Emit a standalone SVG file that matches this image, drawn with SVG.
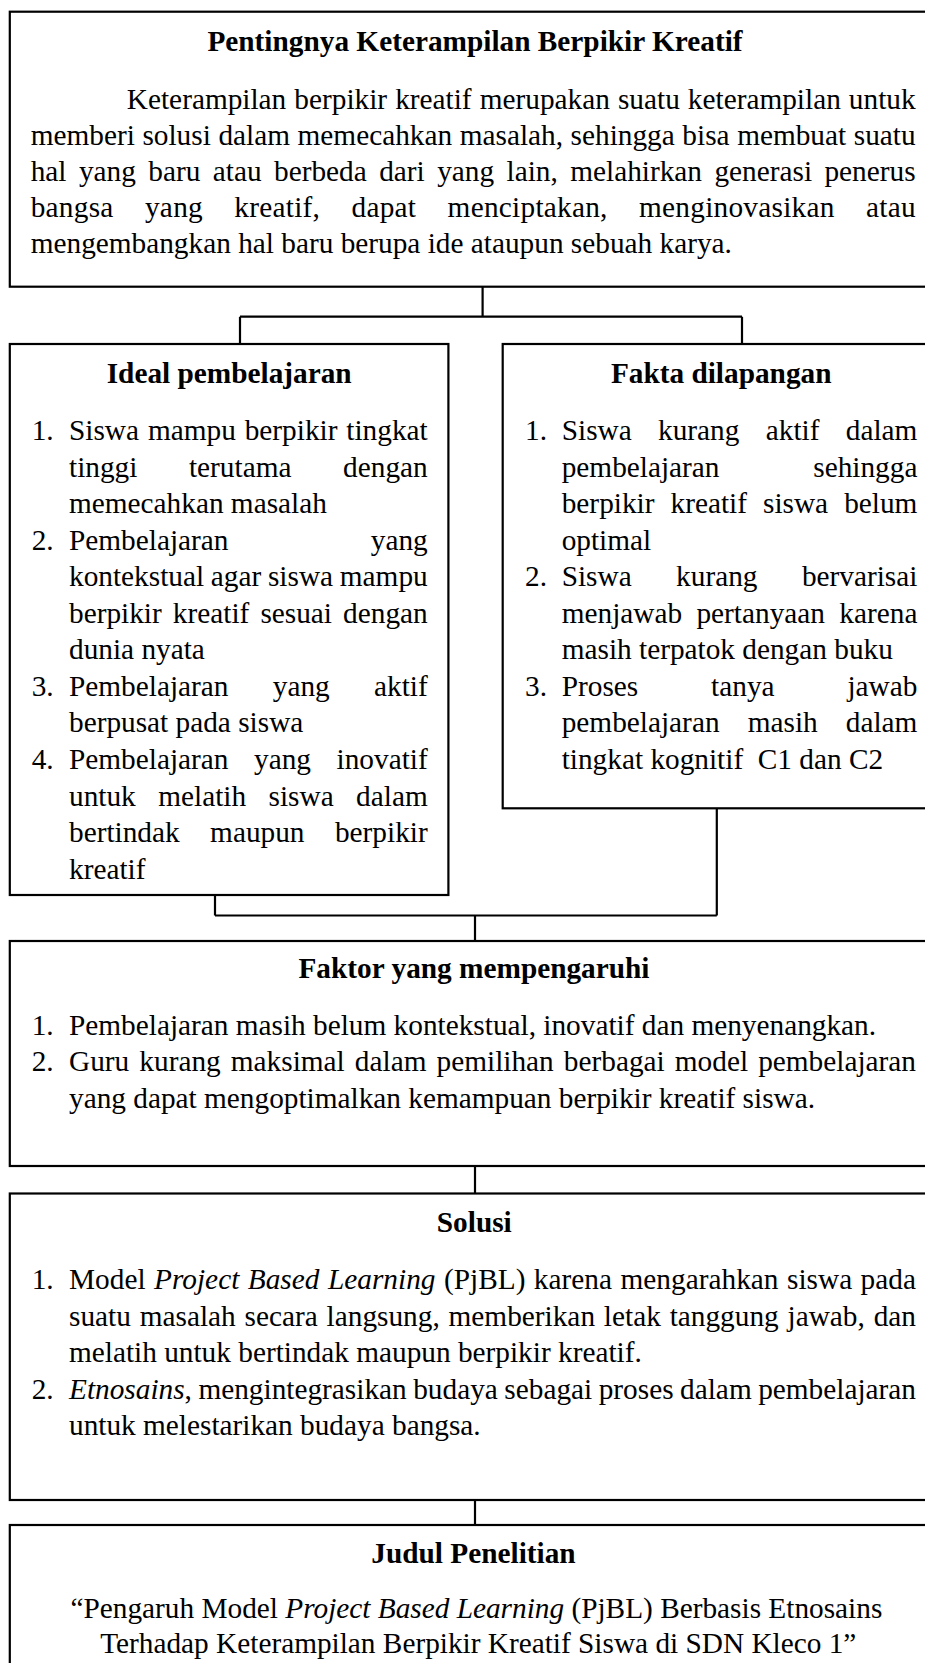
<svg xmlns="http://www.w3.org/2000/svg" width="925" height="1663" viewBox="0 0 925 1663">
<style>
.box{fill:none;stroke:#000;stroke-width:2.2}
.ln{fill:none;stroke:#000;stroke-width:2.2}
text{font-family:"Liberation Serif","Times New Roman",serif;font-size:29.3px;fill:#000}
.h{font-weight:bold;text-anchor:middle}
.c{text-anchor:middle}
.i{font-style:italic}
</style>
<rect x="0" y="0" width="925" height="1663" fill="#fff"/>
<g id="connectors">
<path class="ln" d="M482.6,286.7 V316.7 M240,316.7 H742 M240,316.7 V344 M742,316.7 V344"/>
<path class="ln" d="M215,895 V915.5 M716.8,808.3 V915.5 M215,915.5 H716.8 M475,915.5 V941"/>
<path class="ln" d="M475,1166 V1193.5"/>
<path class="ln" d="M475,1500 V1525"/>
</g>
<g id="node-pentingnya">
<rect class="box" x="9.8" y="11.7" width="940" height="275"/>
<text class="h" x="475" y="50.5">Pentingnya Keterampilan Berpikir Kreatif</text>
<text x="126.8" y="108.7" word-spacing="0.73" textLength="788.8" lengthAdjust="spacing">Keterampilan berpikir kreatif merupakan suatu keterampilan untuk</text>
<text x="30.7" y="144.8" word-spacing="0.24" textLength="884.9" lengthAdjust="spacing">memberi solusi dalam memecahkan masalah, sehingga bisa membuat suatu</text>
<text x="30.7" y="180.9" word-spacing="5.09" textLength="884.9" lengthAdjust="spacing">hal yang baru atau berbeda dari yang lain, melahirkan generasi penerus</text>
<text x="30.7" y="217" word-spacing="23.8" textLength="884.9" lengthAdjust="spacing">bangsa yang kreatif, dapat menciptakan, menginovasikan atau</text>
<text x="30.7" y="253.1">mengembangkan hal baru berupa ide ataupun sebuah karya.</text>
</g>
<g id="node-ideal">
<rect class="box" x="9.8" y="344" width="438.6" height="551"/>
<text class="h" x="229.2" y="383.3">Ideal pembelajaran</text>
<text x="31.7" y="440">1.</text>
<text x="69" y="440" word-spacing="1.57" textLength="358.7" lengthAdjust="spacing">Siswa mampu berpikir tingkat</text>
<text x="69" y="476.55" word-spacing="44.3" textLength="358.7" lengthAdjust="spacing">tinggi terutama dengan</text>
<text x="69" y="513.1">memecahkan masalah</text>
<text x="31.7" y="549.65">2.</text>
<text x="69" y="549.65" word-spacing="134.9" textLength="358.7" lengthAdjust="spacing">Pembelajaran yang</text>
<text x="69" y="586.2" word-spacing="-0.6" textLength="358.7" lengthAdjust="spacing">kontekstual agar siswa mampu</text>
<text x="69" y="622.75" word-spacing="3.76" textLength="358.7" lengthAdjust="spacing">berpikir kreatif sesuai dengan</text>
<text x="69" y="659.3">dunia nyata</text>
<text x="31.7" y="695.85">3.</text>
<text x="69" y="695.85" word-spacing="36.95" textLength="358.7" lengthAdjust="spacing">Pembelajaran yang aktif</text>
<text x="69" y="732.4">berpusat pada siswa</text>
<text x="31.7" y="768.95">4.</text>
<text x="69" y="768.95" word-spacing="18.2" textLength="358.7" lengthAdjust="spacing">Pembelajaran yang inovatif</text>
<text x="69" y="805.5" word-spacing="15.1" textLength="358.7" lengthAdjust="spacing">untuk melatih siswa dalam</text>
<text x="69" y="842.05" word-spacing="23.1" textLength="358.7" lengthAdjust="spacing">bertindak maupun berpikir</text>
<text x="69" y="878.6">kreatif</text>
</g>
<g id="node-fakta">
<rect class="box" x="502.7" y="344" width="450" height="464.3"/>
<text class="h" x="721.2" y="383.3">Fakta dilapangan</text>
<text x="525" y="440">1.</text>
<text x="561.7" y="440" word-spacing="19" textLength="355.7" lengthAdjust="spacing">Siswa kurang aktif dalam</text>
<text x="561.7" y="476.55" word-spacing="86.4" textLength="355.7" lengthAdjust="spacing">pembelajaran sehingga</text>
<text x="561.7" y="513.1" word-spacing="8.7" textLength="355.7" lengthAdjust="spacing">berpikir kreatif siswa belum</text>
<text x="561.7" y="549.65">optimal</text>
<text x="525" y="586.2">2.</text>
<text x="561.7" y="586.2" word-spacing="37.1" textLength="355.7" lengthAdjust="spacing">Siswa kurang bervarisai</text>
<text x="561.7" y="622.75" word-spacing="7" textLength="355.7" lengthAdjust="spacing">menjawab pertanyaan karena</text>
<text x="561.7" y="659.3">masih terpatok dengan buku</text>
<text x="525" y="695.85">3.</text>
<text x="561.7" y="695.85" word-spacing="65.6" textLength="355.7" lengthAdjust="spacing">Proses tanya jawab</text>
<text x="561.7" y="732.4" word-spacing="20.8" textLength="355.7" lengthAdjust="spacing">pembelajaran masih dalam</text>
<text x="561.7" y="768.95" xml:space="preserve">tingkat kognitif  C1 dan C2</text>
</g>
<g id="node-faktor">
<rect class="box" x="9.8" y="941" width="940" height="225"/>
<text class="h" x="474" y="978.3">Faktor yang mempengaruhi</text>
<text x="31.7" y="1034.5">1.</text>
<text x="69" y="1034.5">Pembelajaran masih belum kontekstual, inovatif dan menyenangkan.</text>
<text x="31.7" y="1071">2.</text>
<text x="69" y="1071" word-spacing="2.77" textLength="847" lengthAdjust="spacing">Guru kurang maksimal dalam pemilihan berbagai model pembelajaran</text>
<text x="69" y="1107.5">yang dapat mengoptimalkan kemampuan berpikir kreatif siswa.</text>
</g>
<g id="node-solusi">
<rect class="box" x="9.8" y="1193.5" width="940" height="306.5"/>
<text class="h" x="474.3" y="1232">Solusi</text>
<text x="31.7" y="1289">1.</text>
<text x="69" y="1289" word-spacing="1.1" textLength="847" lengthAdjust="spacing">Model <tspan class="i">Project Based Learning</tspan> (PjBL) karena mengarahkan siswa pada</text>
<text x="69" y="1325.5" word-spacing="1.5" textLength="847" lengthAdjust="spacing">suatu masalah secara langsung, memberikan letak tanggung jawab, dan</text>
<text x="69" y="1362">melatih untuk bertindak maupun berpikir kreatif.</text>
<text x="31.7" y="1398.5">2.</text>
<text x="69" y="1398.5" word-spacing="-0.83" textLength="847" lengthAdjust="spacing"><tspan class="i">Etnosains</tspan>, mengintegrasikan budaya sebagai proses dalam pembelajaran</text>
<text x="69" y="1435">untuk melestarikan budaya bangsa.</text>
</g>
<g id="node-judul">
<rect class="box" x="9.8" y="1525" width="940" height="200"/>
<text class="h" x="473.5" y="1563">Judul Penelitian</text>
<text class="c" x="476.4" y="1618">“Pengaruh Model <tspan class="i">Project Based Learning</tspan> (PjBL) Berbasis Etnosains</text>
<text class="c" x="478.3" y="1653">Terhadap Keterampilan Berpikir Kreatif Siswa di SDN Kleco 1”</text>
</g>
</svg>
